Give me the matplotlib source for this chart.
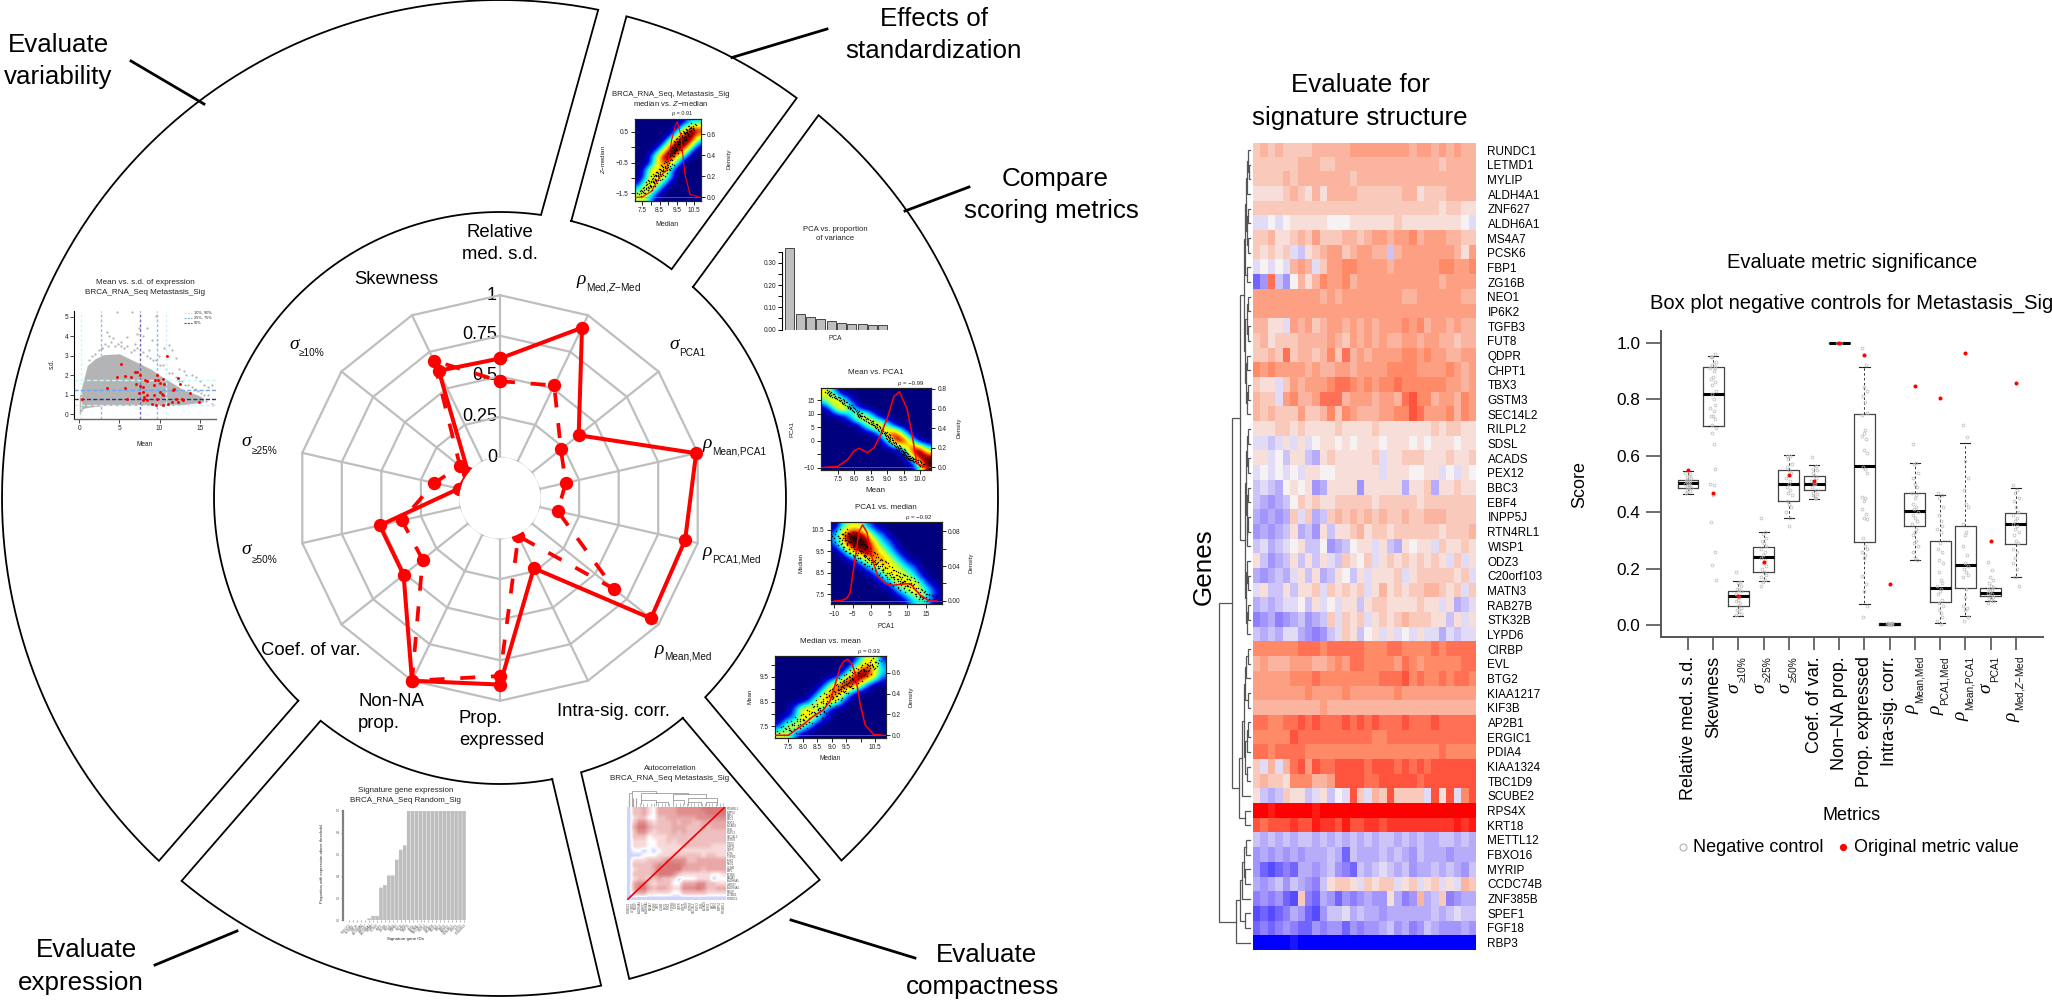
import numpy as np
import matplotlib
matplotlib.use('Agg')
import matplotlib.pyplot as plt
from matplotlib.colors import LinearSegmentedColormap

plt.rcParams['font.family'] = ['Liberation Sans', 'DejaVu Sans']
plt.rcParams['mathtext.fontset'] = 'custom'
plt.rcParams['mathtext.rm'] = 'Liberation Sans'
plt.rcParams['mathtext.it'] = 'Liberation Sans:italic'
plt.rcParams['mathtext.bf'] = 'Liberation Sans:bold'

W, H = 2052, 1002
# ------------------------------------------------------------------ data
RADAR_METRICS = ['Relative med. s.d.', 'rho Med,Z-Med', 'sigma PCA1', 'rho Mean,PCA1', 'rho PCA1,Med', 'rho Mean,Med',
                 'Intra-sig. corr.', 'Prop. expressed', 'Non-NA prop.', 'Coef. of var.', 'sigma 50', 'sigma 25', 'sigma 10', 'Skewness']
RADAR_SOLID = [.61, .915, .37, .99, .92, .94, .23, .90, 1.0, .51, .51, .01, .0, .62]
RADAR_DASHED = [.47, .52, .23, .165, .115, .65, .01, .847, 1.0, .36, .37, .165, .065, .69]
RADAR_RINGS = [0, .25, .5, .75, 1]
RADAR_RING_LABELS = ['0', '0.25', '0.5', '0.75', '1']

GENES = ['RUNDC1','LETMD1','MYLIP','ALDH4A1','ZNF627','ALDH6A1','MS4A7','PCSK6','FBP1','ZG16B','NEO1','IP6K2','TGFB3','FUT8',
         'QDPR','CHPT1','TBX3','GSTM3','SEC14L2','RILPL2','SDSL','ACADS','PEX12','BBC3','EBF4','INPP5J','RTN4RL1','WISP1','ODZ3',
         'C20orf103','MATN3','RAB27B','STK32B','LYPD6','CIRBP','EVL','BTG2','KIAA1217','KIF3B','AP2B1','ERGIC1','PDIA4','KIAA1324',
         'TBC1D9','SCUBE2','RPS4X','KRT18','METTL12','FBXO16','MYRIP','CCDC74B','ZNF385B','SPEF1','FGF18','RBP3']
# digits = +tenths, a..j = -tenths, X = +1
HEAT = ["232322223333344444444344343433","222222333223333333333333323333","222232333333323333333333333333",
"111123213133332222223312223333","222222222222222222222222212211","aa0a0111110001111112111111110a",
"223112324222332344344534443322","21212ab12344234433b34444444314","a0a0a343a2445544443444444554455",
"fd6bd0313544534444444444434444","444444444343444444443344444433","444444444444444444444444444444",
"3311a4342344343434445453443433","231222333343243434334434433233","223262332352634344445545443344",
"545444434334434444555544445434","211a24344456654545565555554434","322a45334666344434436755344354",
"323222422352543334455764445354","111221211112111121111111212211","aaba1a1a01101011101110101110110",
"11a0b11bc12111112a112221112112","a0a0a0a1100111111a1110011a0a10","babc0101dc1111d11111c112c11211",
"bcdcb0212112222212222212222222","cdcdc2a2cb23232323223223332222","dcdcb1cbd1b1123122122222212223",
"bacba01bb0dcb011a1bc1011a21121","1bdcb1b1b1ab2102a121212121a2a1","cdcbca1b1cb10b1a1112a12222212a",
"a1bb1b112a21212a131212233212a2","cbcbaa0b1a0a11b1221111211a1cba","edcedcbdcb2a212a1212322211b1a1",
"bcbcaacdedba21b01a1a0a1aacabaa","555555666566666555665555656666","343334443345466555546545555566",
"444445556555555556667565565665","444444454444544444454444444444","333333333433333333333333333333",
"665566767666767676667666766666","555557666666666655666666666666","665666655555555555555555565555",
"2a3a36747667777677767676777777","232215553347777667777767777777","1bcb211ba1b0a72a3272222a717a57",
"XX9XXXXX9XXXXXXXXXXXXXXXXXXXXX","767778779887977887888888888989","bcbcbcbbcbcbcbcbcbbcbcbccbbcbc",
"dcdcdcdcccbcfbcccbcbcdbcccdccc","dfgfefccdcbdefbcbabcbdccbcbcdb","cdcbdbcdeb1221a2122a12a12a1a32",
"ededfg2efcdfdedcdd1ced3cb2edcc","gfgfecdfgdbbacbccdccccccbcbabb","fefedeffdeddfdeddcbdcedbcdddcd",
"jjjjjijjjjjjjjjjjjjjjjjjjjjjjj"]

BOX_Q1 = [.487,.705,.068,.189,.441,.478,1.0,.295,.003,.353,.081,.132,.105,.289]
BOX_MED = [.503,.82,.103,.243,.50,.501,1.0,.564,.005,.406,.132,.215,.116,.357]
BOX_Q3 = [.516,.913,.12,.276,.548,.53,1.0,.749,.007,.467,.298,.353,.134,.396]
BOX_LO = [.465,.705,.033,.156,.379,.447,1.0,.075,.002,.233,.009,.032,.085,.17]
BOX_HI = [.546,.954,.156,.33,.603,.566,1.0,.915,.008,.574,.46,.645,.134,.486]
BOX_RED = [.548,.468,.103,.224,.533,.512,1.0,.958,.146,.848,.805,.962,.298,.857]
BOX_POINTS = [
 [.47,.475,.48,.485,.49,.49,.495,.5,.5,.505,.51,.51,.515,.52,.525,.53,.535,.54],
 [.95,.96,.95,.93,.92,.92,.91,.91,.9,.88,.87,.86,.85,.83,.82,.8,.78,.77,.76,.74,.74,.73,.71,.7,.68,.64,.555,.5,.495,.46,.365,.26,.215,.16],
 [.19,.155,.15,.14,.13,.125,.12,.11,.1,.09,.085,.08,.07,.06,.055,.05,.04,.035],
 [.38,.33,.325,.31,.3,.29,.28,.27,.26,.25,.24,.23,.22,.21,.2,.19,.18,.17,.16,.155,.14],
 [.6,.6,.59,.57,.56,.55,.54,.52,.51,.5,.49,.48,.47,.46,.44,.43,.42,.4,.38,.35],
 [.595,.565,.555,.55,.54,.53,.52,.51,.5,.5,.49,.48,.47,.465,.46,.45,.45],
 [1,1,1],
 [.98,.92,.845,.83,.81,.79,.75,.745,.69,.68,.67,.66,.62,.61,.56,.555,.54,.455,.45,.44,.41,.395,.38,.375,.31,.28,.27,.26,.25,.24,.175,.145,.12,.07,.03],
 [.004,.005,.006,.007,.008,.006,.005],
 [.64,.575,.57,.54,.52,.5,.49,.47,.46,.45,.43,.42,.41,.4,.39,.38,.37,.36,.34,.33,.32,.3,.29,.28,.26,.24,.23],
 [.47,.46,.45,.42,.39,.37,.35,.34,.33,.29,.27,.26,.23,.22,.19,.16,.15,.14,.13,.12,.11,.09,.08,.07,.055,.045,.03,.015,.005],
 [.71,.665,.58,.52,.48,.43,.42,.36,.33,.32,.28,.25,.22,.21,.2,.19,.18,.17,.13,.1,.07,.06,.055,.03,.015],
 [.225,.195,.17,.16,.15,.14,.135,.13,.125,.12,.115,.11,.105,.1,.095,.09,.085,.08],
 [.495,.48,.47,.45,.44,.42,.4,.39,.38,.37,.36,.35,.34,.33,.32,.3,.29,.27,.26,.24,.22,.2,.17,.14]]
JITTER = [-.09, .06, -.03, .11, -.06, .02, .09, -.11, .04, -.01]
BOX_LABELS = ['Relative med. s.d.', 'Skewness', ('σ','≥10%'), ('σ','≥25%'), ('σ','≥50%'), 'Coef. of var.', 'Non−NA prop.',
              'Prop. expressed', 'Intra-sig. corr.', ('ρ','Mean,Med'), ('ρ','PCA1,Med'), ('ρ','Mean,PCA1'), ('σ','PCA1'), ('ρ','Med,$\\mathit{Z}$−Med')]

PCA_VAR = [.368,.071,.0573,.048,.039,.030,.026,.026,.022,.022]
SIG_PROP = [0,0,0,0,0,.018,.04,.04,.298,.322,.41,.41,.553,.644,.684,1,1,1,1,1,1,1,1,1,1,1,1,1,1,1]

SD_LOW_X = [0,.5,1,2,3,5,7,9,10,11,12,13,14,15,15.5]
SD_LOW_Y = [-.05,.3,.35,.4,.45,.45,.45,.45,.45,.45,.45,.5,.55,.6,.65]
SD_UP_Y = [.9,1.7,2.5,2.85,3.05,3.1,2.7,2.3,2.0,1.75,1.5,1.25,1.1,.95,.8]
SD_GREY_X = [4.75,6.6,9.5,8.5,5.2,3.5,3.7,4.2,6,7.2,7.5,8,9,9.7,10.5,11.2,11.5,12,12.4,13,13.3,14,14.5,15,15.5,16,16.5,15.8,16.5,16.7,2.8,6.9,8.7,9.9,
             1.2,1.6,2,2.4,2.8,3.2,3.6,4,4.4,4.8,5.2,5.6,6,6.4,6.8,7.2,7.6,8,8.4,8.8,9.2,9.6,10,10.4,10.8,11.2,11.6,12,12.4,12.8,13.2,13.6,14,14.4,14.8,15.2,15.6,16]
SD_GREY_Y = [5.25,5.25,5.05,4.4,3.7,4.2,4.0,3.9,3.95,4.1,4.4,4.0,3.8,3.6,3.4,3.55,3.3,2.9,2.3,2.2,2.0,2.0,1.9,1.7,1.5,1.4,1.5,.7,.55,.5,3.4,3.6,3.3,3.0,
             2.8,3.0,3.1,3.3,3.4,3.6,3.5,3.7,3.5,3.6,3.5,3.4,3.5,3.2,3.3,3.4,3.1,3.2,3.0,2.9,2.8,2.8,2.5,2.5,2.3,2.1,2.1,1.9,1.7,1.7,1.5,1.5,1.4,1.3,1.2,1.1,1.0,1.0]
SD_RED_X = [5.2,4.7,5.7,6.5,3.4,5.75,5.9,.33,6.9,7.2,7.55,7.1,7.55,8,7.45,8,8.05,8.45,7.9,8.5,8.2,8.45,9.7,9.45,9.75,9.35,10,10.45,10.55,10.9,12.35,12.55,11.8,11.7,13.8,10.1,10.25,10.45,9.35,9.1,9.55,9.7,10.45,11,11.5,12.1,12.25,12.75,12.95,14.95]
SD_RED_Y = [2.6,1.9,1.95,1.93,1.33,1.33,.79,.77,2.17,2.15,2.0,1.55,1.45,1.42,1.1,1.12,.9,1,.72,.72,1.78,1.73,2.02,1.76,1.76,1.48,1.58,1.83,1.55,3.0,1.86,1.57,1.32,1.27,1.1,1.15,1.02,1,.97,.53,.5,.77,.46,.55,.65,.79,.62,.77,.74,.63]
SD_VLINES = [.2, 2.65, 7.55, 9.65, 10.8]
SD_HLINES = [.5, .78, 1.22, 1.75]
SD_QCOL = ['#c8f8fa', '#8fbcf2', '#7070b8', '#8fbcf2', '#c8f8fa']
SD_HCOL = ['#c8f8fa', '#2c2c90', '#6fa8ee', '#c8f8fa']

D_GRID = ["63000000000000","47520000000000","03752000000000","00026730000000","00000377300000",
          "00000003883000","00000000399400","00000000003994","00000000000499","00000000000049"]
E_GRID = ["03552100000000","27997320000000","26999632000000","02689753100000","00136775310000",
          "00002466532000","00000136653100","00000012566310","00000000246531","00000000013420"]
F_GRID = ["00000000002561","00000000026863","00000000279962","00000026997200","00000268620000",
          "00002676200000","00266520000000","01266310000000","15652000000000","55200000000000"]
B_GRID = ["0000000133","0000002688","0000026896","0000279972","0002698720","0026986200",
          "0026762000","0266620000","0266520000","1565200000","4652000000","5520000000"]
D_CURVE_X = [7.1,7.5,7.8,8.0,8.15,8.4,8.6,8.8,9.0,9.2,9.37,9.6,9.75,9.9,10.1,10.25]
D_CURVE_Y = [0,.01,.08,.17,.195,.15,.2,.33,.5,.72,.773,.6,.35,.04,.01,0]
E_CURVE_X = [-10,-8,-6.6,-5.7,-4.3,-3.2,-2.25,-1,-.25,1,2,4,6.1,8,10.7,12,13.4,16,18]
E_CURVE_Y = [0,.0005,.003,.009,.049,.08,.087,.078,.058,.04,.028,.02,.018,.019,.02,.014,.007,0,0]
F_CURVE_X = [7.1,7.5,7.75,8.0,8.35,8.7,8.94,9.1,9.28,9.42,9.55,9.7,9.8,9.98,10.15,10.43,10.78]
F_CURVE_Y = [0,.0,.05,.1,.18,.24,.33,.47,.65,.71,.73,.68,.6,.3,.1,.01,0]
B_CURVE_X = [7.17,7.5,8.04,8.52,8.9,9.2,9.4,9.52,9.71,9.96,10.25,10.83]
B_CURVE_Y = [0,.003,.06,.2,.26,.55,.68,.72,.6,.22,.03,0]
D_DOTS = [(7.2,18),(7.3,17),(7.45,16),(7.6,15),(7.7,14),(7.85,13),(7.9,12),(8.05,11),(8.15,10),(8.2,9),(8.35,8),(8.5,7),(8.6,6),(8.7,5),(8.8,4),(8.9,3),(9.0,2),(9.05,1),(9.1,0),(9.2,-1),(9.3,-2),(9.35,-3),(9.45,-3.5),(9.5,-4.5),(9.55,-5),(9.6,-6),(9.7,-6.5),(9.75,-7),(9.85,-7.5),(9.95,-8),(10.05,-9)]
E_DOTS = [(-9,10.2),(-8,10.3),(-8,9.9),(-7,10.1),(-6.5,9.8),(-6,10.3),(-6,9.6),(-5,10),(-5,9.5),(-4,9.9),(-4,9.4),(-3,9.7),(-3,9.2),(-2,9.6),(-2,9.3),(-1,9.4),(-1,9),(0,9.3),(0,8.9),(1,9.1),(2,9.0),(2,8.7),(3,8.9),(4,8.7),(4,8.4),(5,8.5),(6,8.3),(7,8.4),(7,8),(8,8.3),(9,8.1),(9,7.8),(10,8.2),(10,7.9),(11,8),(12,7.7),(13,7.6),(14,7.4),(15,7.4),(16,7.3)]
F_DOTS = [(7.3,7.3),(7.5,7.5),(7.7,7.4),(7.8,7.7),(8,7.8),(8.1,7.6),(8.2,8),(8.4,8.1),(8.5,8.4),(8.6,8.0),(8.7,8.3),(8.8,8.7),(8.9,8.5),(9,8.8),(9.1,8.9),(9.1,8.5),(9.2,9),(9.3,8.8),(9.3,9.3),(9.4,9.1),(9.5,9.4),(9.5,9.0),(9.6,9.3),(9.7,9.6),(9.7,9.2),(9.8,9.5),(9.9,9.7),(10,9.5),(10.1,9.8),(10.2,9.9),(10.3,9.8),(10.4,10),(10.5,10.1)]
B_DOTS = [(7.4,-1.5),(7.6,-1.4),(7.8,-1.3),(7.9,-1.15),(8,-1.3),(8.1,-1.1),(8.2,-.95),(8.3,-1.1),(8.4,-.9),(8.5,-.8),(8.6,-.95),(8.7,-.7),(8.8,-.6),(8.9,-.75),(9,-.45),(9.1,-.3),(9.1,-.6),(9.2,-.2),(9.3,-.1),(9.4,0),(9.5,-.1),(9.5,.2),(9.6,.1),(9.7,.3),(9.8,.2),(9.9,.45),(10,.35),(10.1,.5),(10.2,.6),(10.3,.55),(10.4,.7)]
DOT_CLOUD = [(0,0),(1.7,1.1),(-1.6,-.9),(.7,-2),(-.9,2.1),(3,.6),(-2.8,.2)]

AUTO_GRID = ["03342144445555566666","03342144445555556666","02331133444444555555","03553233343443344444","04664333344433343444",
"03553233343433333333","03331222333333333333","02221122323333333333","02221122222333333222","01101012222222222222",
"00011122233333323322","02223334555533444444","03333455766544444444","02333466766444434444","03333466653222222112",
"02332343320111222011","04553233311444553322","04664344322555653344","03442222211333332222","00000000000000000000"]
AUTO_BRACKETS = [(.02,.05,.9,0,0),(.05,.30,1.0,.9,.85),(.14,.62,.85,.45,.8),(.47,.80,.8,.45,.55),(.62,.92,.55,.3,.3),(.14,.30,.45,.2,.3),
                 (.30,.42,.3,.1,.1),(.47,.58,.45,.2,.2),(.62,.75,.3,.1,.1),(.80,.92,.3,.1,.1)]

# dendrogram over heat-map rows: (x pixel, child, child); leaves are row numbers
G1 = (1244,(1245,(1246,(1247,(1248,0,(1248.5,1,2)),3),(1246.5,(1248,4,5),(1247.5,6,7))),(1247,8,9)),
      (1245,(1246.5,(1248,10,11),(1247.5,12,13)),(1246,(1247,14,15),(1246.5,(1248,16,17),18))))
G2 = (1244.5,(1245.5,(1246.5,(1248,19,20),(1247.5,21,22)),(1246.5,(1247.5,23,24),(1246.5,(1248,25,26),27))),
      (1245.5,(1247,28,(1247.5,29,30)),(1246.5,(1248,31,32),33)))
G3 = (1242,(1243.5,(1245,(1246,(1247.5,34,35),36),(1247.5,37,38)),(1245,(1246.5,(1247.5,39,40),41),(1247,42,43))),44)
G4 = (1240,(1242,(1244,(1246,47,48),(1245,49,50)),51),(1245,52,53))
DENDRO = (1219,(1232,(1240,G1,G2),(1239,G3,(1245,45,46))),(1236,G4,54))

# ------------------------------------------------------------------ helpers
fig = plt.figure(figsize=(W/100, H/100), dpi=100, facecolor='white')
m = fig.add_axes([0, 0, 1, 1])
m.set_xlim(0, W); m.set_ylim(H, 0); m.axis('off')

def axpx(l, t, r, b, **kw):
    return fig.add_axes([l/W, 1-b/H, (r-l)/W, (b-t)/H], **kw)

def T(x, y, s, size=18.7, ha='center', va='center', color='black', **kw):
    return m.text(x, y, s, fontsize=size, ha=ha, va=va, color=color, **kw)

SYM = dict(family='Liberation Serif', style='italic')
def sym_label(x0, y0, x1, y1, sym, sub):
    T(x0, y0, sym, size=14, **SYM)
    T(x1, y1, sub, size=7.2, ha='left', color='#111111')

# ------------------------------------------------------------------ outer ring sectors
CX, CY = 500, 498
R_IN, R_OUT = 286, 498
def ang(p):
    return np.arctan2(p[1]-CY, p[0]-CX)
def arc(p0, p1, r):
    a0, a1 = ang(p0), ang(p1)
    if a1 < a0:
        a1 += 2*np.pi
    t = np.linspace(a0, a1, 200)
    return CX + r*np.cos(t), CY + r*np.sin(t)
SECTORS = [((296,703),(541,215),(156,864),(598,11)),
           ((571,222),(671,270),(626,18),(796,99)),
           ((692,288),(704,696),(817,117),(840,859)),
           ((682,717),(581,772),(819,879),(629,978)),
           ((552,778),(318,724),(601,985),(179,884))]
for i0, i1, o0, o1 in SECTORS:
    xi, yi = arc(i0, i1, R_IN)
    xo, yo = arc(o0, o1, R_OUT)
    m.plot(np.r_[xi, xo[::-1], xi[0]], np.r_[yi, yo[::-1], yi[0]], color='black', lw=1.3, clip_on=False, solid_joinstyle='miter')
LEADERS = [((131,61),(204,104)), ((155,965),(237,931)), ((732,57.5),(827,29)), ((905,211),(969,187)), ((791,920),(915,958))]
for a, b in LEADERS:
    m.plot([a[0], b[0]], [a[1], b[1]], color='black', lw=2)
for x, y, s in [(58,45,'Evaluate'),(58,77,'variability'),(86,950,'Evaluate'),(81,983,'expression'),(934,19,'Effects of'),
                (934,51,'standardization'),(1055,179,'Compare'),(1051,211,'scoring metrics'),(987,955,'Evaluate'),(983,987,'compactness'),
                (1360,85,'Evaluate for'),(1360,118,'signature structure')]:
    T(x, y, s)
T(1204, 567, 'Genes', rotation=90)

# ------------------------------------------------------------------ radar
R0, R1 = 40.6, 202.8
unit = R1 - R0
ext = (1.05 - (-R0/unit)) * unit
rad = axpx(CX-ext, CY-ext, CX+ext, CY+ext, projection='polar')
rad.set_theta_zero_location('N'); rad.set_theta_direction(-1)
rad.set_ylim(0, 1.05); rad.set_rorigin(-R0/unit)
rad.axis('off'); rad.patch.set_alpha(0)
theta = np.arange(14)*2*np.pi/14
thc = np.r_[theta, theta[0]]
for r in RADAR_RINGS:
    rad.plot(thc, [r]*15, color='#bebebe', lw=1.6, zorder=1)
for t in theta:
    rad.plot([t, t], [0, 1], color='#bebebe', lw=1.6, zorder=1)
rad.plot(thc, np.r_[RADAR_DASHED, RADAR_DASHED[0]], color='#ff0000', lw=2.7, ls=(0,(4,4.2)), marker='o', ms=9.6, mew=0, zorder=3)
rad.plot(thc, np.r_[RADAR_SOLID, RADAR_SOLID[0]], color='#ff0000', lw=2.9, marker='o', ms=9.6, mew=0, zorder=4)
for y, s in zip([457,416.2,376,334.7,295], RADAR_RING_LABELS):
    T(497, y, s, size=13, ha='right', zorder=9)
fs = 13.3
for x, y, s, ha in [(500,232.5,'Relative','center'),(500,254,'med. s.d.','center'),(396,279,'Skewness','center'),(613,711.7,'Intra-sig. corr.','center'),
                    (459,718.6,'Prop.','left'),(459,740.4,'expressed','left'),(358,701,'Non-NA','left'),(358,723.5,'prop.','left'),(311,650.4,'Coef. of var.','center')]:
    T(x, y, s, size=fs, ha=ha)
sym_label(581,280,586.5,288,'ρ','Med,$\\mathit{Z}$−Med')
sym_label(674.5,344.7,679,353,'σ','PCA1')
sym_label(707,443,712,451,'ρ','Mean,PCA1')
sym_label(707,551,712,559,'ρ','PCA1,Med')
sym_label(659,649,664.6,656.6,'ρ','Mean,Med')
sym_label(246.7,550,252,559.7,'σ','≥50%')
sym_label(246.7,442,252,451,'σ','≥25%')
sym_label(293.8,344.7,298.7,353.5,'σ','≥10%')

# ------------------------------------------------------------------ inset: mean vs sd
TXT = '#222222'
T(145,282,'Mean vs. s.d. of expression',size=5.9,color=TXT)
T(145,292,'BRCA_RNA_Seq Metastasis_Sig',size=5.9,color=TXT)
a = axpx(74.3,311,215.7,419)
a.set_xlim(-.62,17); a.set_ylim(-.24,5.29); a.patch.set_alpha(0)
a.fill_between(SD_LOW_X, SD_LOW_Y, SD_UP_Y, color='#b4b4b4', lw=0, zorder=1)
a.scatter(SD_GREY_X, SD_GREY_Y, s=2.6, color='#b4b4b4', lw=0, zorder=1)
for v, c in zip(SD_VLINES, SD_QCOL):
    a.axvline(v, color=c, lw=1, ls=(0,(2,1.5)), zorder=2)
for v, c in zip(SD_HLINES, SD_HCOL):
    a.axhline(v, color=c, lw=1, ls=(0,(3,1.5)), zorder=2)
a.scatter(SD_RED_X, SD_RED_Y, s=4.5, color='#ff0000', lw=0, zorder=3)
a.spines[['top','right']].set_visible(False)
a.spines['bottom'].set_color('#666666'); a.spines['bottom'].set_linewidth(1)
a.set_xticks([0,5,10,15]); a.set_yticks(range(6))
a.tick_params(labelsize=4.7, length=3, width=.7, pad=1.5, labelcolor=TXT, color='#444444')
T(52,364,'s.d.',size=4.7,rotation=90,color=TXT); T(145,444,'Mean',size=4.7,color=TXT)
for y, c, s in [(313,'#b8f4f8','10%, 90%'),(318,'#7fb4f0','25%, 75%'),(323,'#4a4aa8','50%')]:
    m.plot([184,192],[y,y],color=c,lw=.8,ls=(0,(2,1)))
    T(194,y,s,size=2.8,ha='left',color=TXT)

# ------------------------------------------------------------------ density insets
JET = LinearSegmentedColormap.from_list('dens', [(0,'#00007f'),(.12,'#0000e0'),(.25,'#0090ff'),(.36,'#00f8ff'),(.5,'#a8ff50'),
                                                  (.62,'#ffff00'),(.74,'#ff9000'),(.86,'#d00000'),(1,'#200000')])
def grid_arr(rows):
    return np.array([[int(c) for c in r] for r in rows], float)

def dens(box, xlim, ylim, y2lim, grid, xt, xl, yt, yl, y2t, y2l, cx, cy, dots, spread, lwc=1.1):
    a = axpx(*box)
    a.imshow(grid_arr(grid), extent=(xlim[0],xlim[1],ylim[0],ylim[1]), aspect='auto', cmap=JET, vmin=0, vmax=9, interpolation='bicubic', zorder=1)
    d = np.array(dots)
    sx = (xlim[1]-xlim[0])/(box[2]-box[0]); sy = (ylim[1]-ylim[0])/(box[3]-box[1])
    for ox, oy in DOT_CLOUD:
        a.scatter(d[:,0]+ox*spread*sx, d[:,1]+oy*spread*sy, s=1.1, color='black', lw=0, marker='o', zorder=2)
    a.set_xlim(xlim); a.set_ylim(ylim)
    a.set_xticks(xt); a.set_xticklabels(xl); a.set_yticks(yt); a.set_yticklabels(yl)
    a.tick_params(labelsize=4.7, length=3, width=.7, pad=1.5, labelcolor=TXT, color='#222222')
    b = a.twinx()
    b.set_ylim(y2lim); b.set_yticks(y2t); b.set_yticklabels(y2l)
    b.tick_params(labelsize=4.7, length=3, width=.7, pad=1.5, labelcolor=TXT, color='#222222')
    b.plot(cx, cy, color='#ff0000', lw=lwc, zorder=5)
    b.axhline(0, color='#8888c8', lw=.4, zorder=4)
    for ax_ in (a, b):
        for s in ax_.spines.values():
            s.set_linewidth(.8); s.set_color('#222222')

dens((820.7,388.3,931.3,470),(6.98,10.34),(-10.85,19.46),(-.027,.807),D_GRID,[7.5,8,8.5,9,9.5,10],['7.5','8.0','8.5','9.0','9.5','10.0'],
     [15,10,5,0,-5,-10],['15','10','5','0','','−10'],[0,.2,.4,.6,.8],['0.0','0.2','0.4','0.6','0.8'],D_CURVE_X,D_CURVE_Y,D_DOTS,.9)
T(875.7,373,'Mean vs. PCA1',size=5.8,color=TXT); T(911,384,'ρ = −0.99',size=4.3,color=TXT)
T(875.7,490,'Mean',size=5.8,color=TXT); T(792.3,429.3,'PCA1',size=4.4,rotation=90,color=TXT); T(959,428,'Density',size=4.4,rotation=90,color=TXT)

dens((830.7,522.3,941.7,604.3),(-10.98,19.38),(7.04,10.84),(-.0038,.09),E_GRID,[-10,-5,0,5,10,15],['−10','−5','0','5','10','15'],
     [7.5,8,8.5,9,9.5,10,10.5],['7.5','','8.5','','9.5','','10.5'],[0,.02,.04,.06,.08],['0.00','','0.04','','0.08'],E_CURVE_X,E_CURVE_Y,E_DOTS,2.2)
T(886,507.3,'PCA1 vs. median',size=5.8,color=TXT); T(919,517.7,'ρ = −0.92',size=4.3,color=TXT)
T(886,626,'PCA1',size=4.7,color=TXT); T(800.7,562.7,'Median',size=4.4,rotation=90,color=TXT); T(971,562.7,'Density',size=4.4,rotation=90,color=TXT)

dens((774.7,656,885.7,738),(7.03,10.86),(7.03,10.35),(-.026,.76),F_GRID,[7.5,8,8.5,9,9.5,10,10.5],['7.5','8.0','8.5','9.0','9.5','','10.5'],
     [7.5,8,8.5,9,9.5,10],['7.5','','8.5','','9.5',''],[0,.2,.4,.6],['0.0','0.2','0.4','0.6'],F_CURVE_X,F_CURVE_Y,F_DOTS,2)
T(830,641.7,'Median vs. mean',size=5.8,color=TXT); T(869,651.7,'ρ = 0.93',size=4.3,color=TXT)
T(830,758.5,'Median',size=4.7,color=TXT); T(750,696.7,'Mean',size=4.4,rotation=90,color=TXT); T(911,697,'Density',size=4.4,rotation=90,color=TXT)

dens((634.7,118.7,700.7,200.7),(7.06,10.87),(-1.74,.93),(-.032,.749),B_GRID,[7.5,8,8.5,9,9.5,10,10.5],['7.5','','8.5','','9.5','','10.5'],
     [.5,0,-.5,-1,-1.5],['0.5','','−0.5','','−1.5'],[0,.2,.4,.6],['0.0','0.2','0.4','0.6'],B_CURVE_X,B_CURVE_Y,B_DOTS,1.2,lwc=.8)
T(671,94,'BRCA_RNA_Seq, Metastasis_Sig',size=5.6,color=TXT); T(671,103,'median vs. $\\mathit{Z}$−median',size=5.6,color=TXT)
T(682,113.7,'ρ = 0.91',size=4.0,color=TXT); T(667,224,'Median',size=5,color=TXT)
T(602.7,159,'$\\mathit{Z}$−median',size=4.4,rotation=90,color=TXT); T(729,159,'Density',size=4.4,rotation=90,color=TXT)

# ------------------------------------------------------------------ inset: PCA bars
a = axpx(782.3,247.7,889,329.5)
a.bar(range(10), PCA_VAR, width=.87, color='#bebebe', edgecolor='#444444', lw=.7)
a.set_xlim(-.726,9.6); a.set_ylim(0,.368)
a.spines[['top','right','bottom']].set_visible(False)
a.spines['left'].set_bounds(0,.35); a.spines['left'].set_linewidth(.8)
a.set_xticks([]); a.set_yticks([0,.05,.1,.15,.2,.25,.3,.35])
a.set_yticklabels(['0.00','','0.10','','0.20','','0.30',''])
a.tick_params(labelsize=4.7,length=3,width=.7,pad=1.5,labelcolor=TXT)
T(835,229,'PCA vs. proportion',size=5.6,color=TXT); T(835,238,'of variance',size=5.6,color=TXT); T(835,338,'PCA',size=4.7,color=TXT)

# ------------------------------------------------------------------ inset: signature bars
a = axpx(343.3,810.7,466,920.3)
a.bar(range(30), SIG_PROP, width=.9, color='#bebebe', lw=0, snap=False)
a.set_xlim(-1.52,29.5); a.set_ylim(0,1)
a.spines[['top','right','bottom']].set_visible(False)
a.spines['left'].set_color('#808080'); a.spines['left'].set_linewidth(1.6)
a.set_xticks(range(30)); a.set_xticklabels(GENES[:30], rotation=45, ha='right', rotation_mode='anchor')
a.set_yticks(np.arange(0,1.01,.2)); a.set_yticklabels(['0.0','0.2','0.4','0.6','0.8','1.0'])
a.tick_params(labelsize=2.2,length=1.2,width=.4,pad=1,labelcolor='#555555',color='#777777')
T(405.7,790.7,'Signature gene expression',size=5.8,color=TXT); T(405.7,800.3,'BRCA_RNA_Seq Random_Sig',size=5.8,color=TXT)
T(322,864,'Proportion with expression above threshold',size=3,rotation=90,color=TXT); T(405.7,938.7,'Signature gene IDs',size=3.2,color=TXT)

# ------------------------------------------------------------------ inset: autocorrelation
AUTOC = LinearSegmentedColormap.from_list('auto',['#ccd4ff','#ffffff','#f8d8d8','#f0c0c0','#e8a8a8','#e08e8e','#d87878'])
a = axpx(627,806.7,725.3,900)
a.imshow(grid_arr(AUTO_GRID), extent=(0,1,0,1), aspect='auto', cmap=AUTOC, vmin=0, vmax=6, interpolation='bilinear')
a.plot([0,1],[0,1],color='#ee0000',lw=1.2)
a.set_xlim(0,1); a.set_ylim(0,1)
tk = np.linspace(.02,.98,27)
a.set_xticks(tk); a.set_xticklabels(GENES[:27], rotation=90)
a.yaxis.tick_right(); a.set_yticks(tk); a.set_yticklabels(GENES[:27])
a.tick_params(labelsize=1.9,length=0,pad=1,labelcolor='#444444')
for s in a.spines.values():
    s.set_visible(False)
d = axpx(627,791,725.3,806.7)
d.set_xlim(0,1); d.set_ylim(0,1); d.axis('off')
for x0,x1,h,d0,d1 in AUTO_BRACKETS:
    d.plot([x0,x0,x1,x1],[d0,h,h,d1],color='#888888',lw=.5)
d.vlines(tk,0,.22,color='#aaaaaa',lw=.5)
d.vlines(tk[:3],0,.55,color='#aaaaaa',lw=.9)
T(670.6,768.7,'Autocorrelation',size=5.6,color=TXT); T(670,778.3,'BRCA_RNA_Seq Metastasis_Sig',size=5.8,color=TXT)

# ------------------------------------------------------------------ heat map + dendrogram
def code(c):
    if c == 'X': return 1.0
    if c.isdigit(): return int(c)/10
    return -(ord(c)-96)/10
hm = np.array([[code(c) for c in r.ljust(30, r[-1])[:30]] for r in HEAT])
BWR = LinearSegmentedColormap.from_list('bwr2',[(0,'#0000ff'),(.25,'#8f7fff'),(.5,'#f6f2f4'),(.75,'#ff8c69'),(1,'#ff0000')])
top, bot = 142.7, 950
a = axpx(1252.7,top,1475,bot)
a.imshow(hm, aspect='auto', cmap=BWR, vmin=-1, vmax=1, interpolation='nearest')
a.set_xticks([]); a.yaxis.tick_right(); a.set_yticks(range(55)); a.set_yticklabels(GENES)
a.tick_params(labelsize=8.5,length=0,pad=9)
for s in a.spines.values():
    s.set_visible(False)
rh = (bot-top)/55
LEAF_X = 1250
def draw(n):
    if isinstance(n,int):
        return LEAF_X, top+rh*(n+.5)
    x,c0,c1 = n
    x0,y0 = draw(c0); x1,y1 = draw(c1)
    col = '#555555'
    m.plot([x0,x,x,x1],[y0,y0,y1,y1],color=col,lw=.9,solid_joinstyle='miter')
    return x,(y0+y1)/2
draw(DENDRO)

# ------------------------------------------------------------------ box plot
b = axpx(1661.3,331.4,2042.7,636.7)
stats = [dict(med=md,q1=q1,q3=q3,whislo=lo,whishi=hi,fliers=[]) for md,q1,q3,lo,hi in zip(BOX_MED,BOX_Q1,BOX_Q3,BOX_LO,BOX_HI)]
b.bxp(stats, positions=range(1,15), widths=.83, capwidths=.4, showfliers=False, patch_artist=False,
      boxprops=dict(color='#444444',lw=.9), medianprops=dict(color='black',lw=2.2,solid_capstyle='butt'),
      whiskerprops=dict(color='#333333',lw=.7,ls=(0,(2.5,2.5))), capprops=dict(color='#222222',lw=.8))
for i, pts in enumerate(BOX_POINTS):
    xs = [i+1+JITTER[k%len(JITTER)] for k in range(len(pts))]
    b.plot(xs, pts, ls='none', marker='o', ms=2.1, mfc='none', mec='#b8b8b8', mew=.5, zorder=3)
b.plot(range(1,15), BOX_RED, ls='none', marker='o', ms=2.9, color='#ff0000', mew=0, zorder=4)
b.set_xlim(-.06,15.07); b.set_ylim(-.04,1.04)
b.spines[['top','right']].set_visible(False)
for s in ('left','bottom'):
    b.spines[s].set_linewidth(1.4); b.spines[s].set_color('#555555')
b.set_yticks([0,.2,.4,.6,.8,1]); b.set_yticklabels(['0.0','0.2','0.4','0.6','0.8','1.0'])
b.set_xticks(range(1,15)); b.set_xticklabels([])
b.tick_params(axis='y',labelsize=12.4,length=11,width=1.2,color='#555555',pad=4)
b.tick_params(axis='x',length=9,width=1.2,color='#555555')
fig.canvas.draw()
rend = fig.canvas.get_renderer()
for i, lab in enumerate(BOX_LABELS):
    kw = dict(xy=(i+1,0), xycoords=('data','axes fraction'), textcoords='offset points', rotation=90, ha='center', va='top')
    if isinstance(lab, str):
        b.annotate(lab, xytext=(0,-19.3*.72), fontsize=13, **kw)
    else:
        t = b.annotate(lab[1], xytext=(4.4*.72,-19.3*.72), fontsize=7.2, color='#111111', **kw)
        h = t.get_window_extent(rend).height
        kw['va'] = 'center'
        b.annotate(lab[0], xytext=(-4.2*.72,-(19.3+h+6)*.72), fontsize=14, **SYM, **kw)
T(1851.7,262.4,'Evaluate metric significance',size=14.5)
T(1851.7,303.3,'Box plot negative controls for Metastasis_Sig',size=14.5)
T(1580,484,'Score',size=13,rotation=90)
T(1851.7,815.5,'Metrics',size=13)
m.plot([1682.7],[847],ls='none',marker='o',ms=5,mfc='none',mec='#b0b0b0',mew=.8)
T(1693,847,'Negative control',size=13,ha='left')
m.plot([1843],[847],ls='none',marker='o',ms=5.2,color='#ff0000',mew=0)
T(1854,847,'Original metric value',size=13,ha='left')

fig.savefig('out.png', dpi=100, facecolor='white')
